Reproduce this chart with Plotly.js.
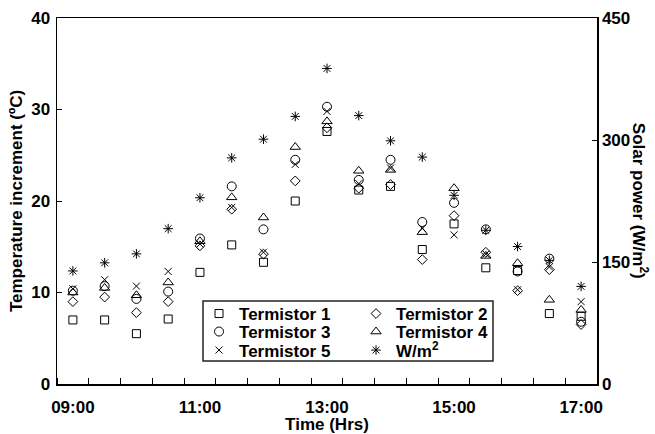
<!DOCTYPE html>
<html><head><meta charset="utf-8">
<script src="https://cdn.plot.ly/plotly-3.0.1.min.js"></script>
<style>html,body{margin:0;padding:0;background:#fff}#chart{width:655px;height:434px}</style>
</head><body><div id="chart"></div>
<script>
const times = ['09:00','09:30','10:00','10:30','11:00','11:30','12:00','12:30','13:00','13:30','14:00','14:30','15:00','15:30','16:00','16:30','17:00'];
const termistor1 = [7.0, 7.0, 5.5, 7.1, 12.2, 15.2, 13.3, 20.0, 27.6, 21.2, 21.6, 14.7, 17.5, 12.7, 12.4, 7.7, 7.4];
const termistor2 = [9.0, 9.5, 7.8, 9.0, 15.1, 19.1, 14.2, 22.2, 28.0, 21.4, 21.8, 13.6, 18.4, 14.4, 10.2, 12.5, 6.5];
const termistor3 = [10.2, 10.7, 9.3, 10.1, 15.9, 21.6, 16.9, 24.5, 30.3, 22.3, 24.5, 17.7, 19.8, 16.9, 12.3, 13.7, 6.8];
const termistor4 = [10.0, 10.5, 9.7, 11.1, 15.6, 20.4, 18.2, 25.9, 28.7, 23.3, 23.4, 16.6, 21.4, 14.0, 13.2, 9.2, 8.1];
const termistor5 = [10.4, 11.4, 10.7, 12.3, 15.3, 19.3, 14.4, 24.0, 29.8, 21.9, 23.6, 17.0, 16.3, 14.2, 10.3, 12.8, 9.0];
const solarPower = [139, 149, 160, 191, 229, 278, 301, 329, 388, 330, 299, 279, 232, 189, 169, 152, 120];
const labeledTimes = ['09:00','11:00','13:00','15:00','17:00'];
const tempTicks = [0, 10, 20, 30, 40];
const solarTicks = [0, 150, 300, 450];

const xIdx = times.map((t, i) => i);
const boundaries = times.concat(['']).map((t, i) => i - 0.5);
const labelIdx = labeledTimes.map(t => times.indexOf(t));

function series(name, y, symbol, size, legend, yaxis) {
  return {
    type: 'scatter', mode: 'markers', name: name, x: xIdx, y: y,
    yaxis: yaxis || 'y', legend: legend,
    marker: {symbol: symbol, size: size, color: '#000', line: {color: '#000', width: 1}},
    hoverinfo: 'skip'
  };
}

const data = [
  series('Termistor 1', termistor1, 'square-open', 8, 'legend'),
  series('Termistor 2', termistor2, 'diamond-open', 7.5, 'legend'),
  series('Termistor 3', termistor3, 'circle-open', 9, 'legend2'),
  series('Termistor 4', termistor4, 'triangle-up-open', 9, 'legend2'),
  series('Termistor 5', termistor5, 'x-thin-open', 7, 'legend3'),
  series('W/m<sup>2</sup>', solarPower, 'asterisk-open', 8, 'legend3', 'y2')
];

const baseFont = {family: 'Liberation Sans, Arial, sans-serif', size: 17, weight: 'bold', color: '#000'};

const legendBase = {
  orientation: 'h', xanchor: 'left', yanchor: 'middle', x: 0.263,
  bgcolor: 'rgba(0,0,0,0)', borderwidth: 0,
  entrywidth: 112, entrywidthmode: 'pixels',
  font: baseFont
};

const layout = {
  width: 655, height: 434,
  margin: {l: 57, r: 58, t: 18, b: 50, pad: 0},
  paper_bgcolor: '#fff', plot_bgcolor: '#fff',
  font: baseFont,
  showlegend: true,
  xaxis: {
    range: [-0.5, times.length - 0.5], showgrid: false, zeroline: false,
    showline: true, linecolor: '#000', linewidth: 1.5, mirror: true,
    tickmode: 'array', tickvals: labelIdx, ticktext: labeledTimes, ticks: '',
    ticklabelstandoff: 7,
    tickfont: baseFont,
    minor: {tickmode: 'array', tickvals: boundaries, ticks: 'inside', ticklen: 6, tickcolor: '#000', tickwidth: 1, showgrid: false},
    title: {text: 'Time (Hrs)', font: baseFont, standoff: 2}
  },
  yaxis: {
    range: [0, 40], showgrid: false, zeroline: false,
    showline: true, linecolor: '#000', linewidth: 1.5,
    tickmode: 'array', tickvals: tempTicks, ticks: 'inside', ticklen: 5, tickcolor: '#000',
    ticklabelstandoff: 2,
    tickfont: baseFont,
    title: {text: 'Temperature increment (ºC)', font: baseFont, standoff: 4}
  },
  yaxis2: {
    overlaying: 'y', side: 'right', range: [0, 450], showgrid: false, zeroline: false,
    showline: true, linecolor: '#000', linewidth: 1.5,
    tickmode: 'array', tickvals: solarTicks, ticks: 'inside', ticklen: 5, tickcolor: '#000',
    tickfont: baseFont
  },
  legend: Object.assign({}, legendBase, {y: 0.1913}),
  legend2: Object.assign({}, legendBase, {y: 0.1421}),
  legend3: Object.assign({}, legendBase, {y: 0.0915}),
  shapes: [{
    type: 'rect', xref: 'paper', yref: 'paper', x0: 0.2704, x1: 0.8074, y0: 0.0628, y1: 0.2268,
    line: {color: '#222', width: 1.5}, fillcolor: '#fff', layer: 'above'
  }],
  annotations: [{
    text: 'Solar power (W/m<sup>2</sup>)', xref: 'paper', yref: 'paper', x: 1.08, y: 0.5,
    xanchor: 'center', yanchor: 'middle', textangle: 90, showarrow: false,
    font: baseFont
  }]
};

Plotly.newPlot('chart', data, layout, {staticPlot: true, displayModeBar: false});
</script>
</body></html>
